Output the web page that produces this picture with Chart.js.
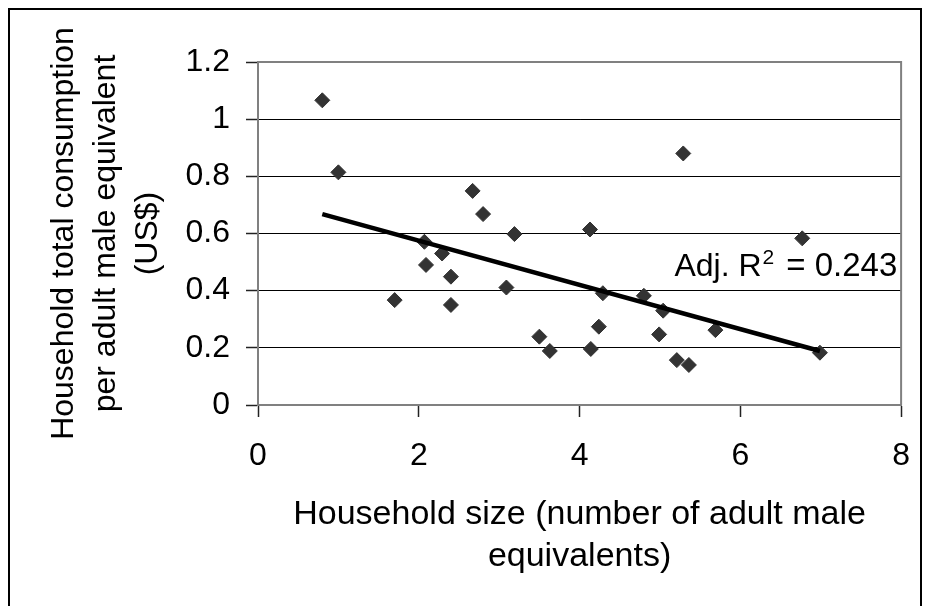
<!DOCTYPE html>
<html>
<head>
<meta charset="utf-8">
<script src="https://cdn.jsdelivr.net/npm/chart.js@4.4.1/dist/chart.umd.min.js"></script>
<style>
  html, body { margin: 0; padding: 0; background: #fff; }
  #wrap { width: 930px; height: 606px; }
</style>
</head>
<body>
<div id="wrap"><canvas id="chart" width="930" height="606"></canvas></div>
<script>
// household size (adult male equivalents)
const householdSize = [0.80, 1.00, 1.70, 2.07, 2.09, 2.29, 2.40, 2.40, 2.67, 2.80, 3.09, 3.19, 3.50, 3.63,
    4.13, 4.14, 4.24, 4.29, 4.80, 4.99, 5.04, 5.21, 5.29, 5.36, 5.69, 6.77, 6.99];
// consumption per adult male equivalent (US$)
const consumption = [1.066, 0.814, 0.367, 0.571, 0.490, 0.530, 0.449, 0.350, 0.749, 0.668, 0.411, 0.598, 0.239, 0.189,
    0.614, 0.196, 0.274, 0.391, 0.382, 0.247, 0.330, 0.157, 0.880, 0.140, 0.262, 0.583, 0.183];

// fitted line end points
const trendX = [0.80, 6.99];
const trendY = [0.668, 0.189];

// axis ticks
const xTicks = [0, 2, 4, 6, 8];
const yTicks = [0, 0.2, 0.4, 0.6, 0.8, 1, 1.2];

const xTitle = ['Household size (number of adult male', 'equivalents)'];
const yTitle = ['Household total consumption', 'per adult male equivalent', '(US$)'];
const r2Label = { pre: 'Adj. R', sup: '2', post: '= 0.243', x: 5.18, y: 0.451 };

const FONT = '"Liberation Sans", Arial, sans-serif';

document.addEventListener('DOMContentLoaded', () => {
    const ctx = document.getElementById('chart').getContext('2d');

    // frame, plot border and the R2 note
    const extras = {
        id: 'extras',
        beforeDatasetsDraw(chart) {
            const { ctx, chartArea: a } = chart;
            ctx.save();
            ctx.strokeStyle = '#808080';
            ctx.lineWidth = 2;
            ctx.beginPath();
            ctx.moveTo(a.left, a.top);
            ctx.lineTo(a.right, a.top);
            ctx.lineTo(a.right, a.bottom);
            ctx.stroke();
            ctx.restore();
        },
        afterDraw(chart) {
            const { ctx, scales } = chart;
            ctx.save();
            // outer frame
            ctx.strokeStyle = '#000';
            ctx.lineWidth = 2;
            ctx.strokeRect(9, 9, 912, 700);

            // Adj. R2 text
            let px = scales.x.getPixelForValue(r2Label.x);
            const py = scales.y.getPixelForValue(r2Label.y);
            ctx.fillStyle = '#000';
            ctx.textBaseline = 'alphabetic';
            ctx.textAlign = 'left';
            ctx.font = '32px ' + FONT;
            ctx.fillText(r2Label.pre, px, py);
            px += ctx.measureText(r2Label.pre).width + 1;
            ctx.font = '21px ' + FONT;
            ctx.fillText(r2Label.sup, px, py - 12);
            px += ctx.measureText(r2Label.sup).width + 12;
            ctx.font = '33px ' + FONT;
            ctx.fillText(r2Label.post, px, py);
            ctx.restore();
        }
    };

    new Chart(ctx, {
        type: 'scatter',
        data: {
            datasets: [
                {
                    type: 'line',
                    label: 'Trend',
                    data: trendX.map((x, i) => ({ x: x, y: trendY[i] })),
                    borderColor: '#000',
                    borderWidth: 4.5,
                    pointRadius: 0,
                    fill: false
                },
                {
                    label: 'Households',
                    data: householdSize.map((x, i) => ({ x: x, y: consumption[i] })),
                    pointStyle: 'rectRot',
                    pointRadius: 7.5,
                    pointHoverRadius: 7.5,
                    backgroundColor: '#333333',
                    borderColor: '#333333',
                    borderWidth: 1
                }
            ]
        },
        options: {
            responsive: false,
            animation: false,
            devicePixelRatio: 1,
            layout: { padding: { left: 10, top: 62, right: 26, bottom: 0 } },
            plugins: {
                legend: { display: false },
                tooltip: { enabled: false }
            },
            scales: {
                x: {
                    type: 'linear',
                    min: 0,
                    max: 8,
                    afterBuildTicks: (scale) => { scale.ticks = xTicks.map(v => ({ value: v })); },
                    afterFit: (scale) => { scale.height = 201; },
                    grid: {
                        drawOnChartArea: false,
                        drawTicks: true,
                        tickLength: 12,
                        tickColor: '#222',
                        tickWidth: 1.5
                    },
                    border: { color: '#808080', width: 2 },
                    ticks: {
                        padding: 20,
                        color: '#000',
                        font: { family: FONT, size: 32 },
                        maxRotation: 0
                    },
                    title: {
                        display: true,
                        text: xTitle,
                        color: '#000',
                        font: { family: FONT, size: 34, lineHeight: '42px' },
                        padding: { top: 0, bottom: 28 }
                    }
                },
                y: {
                    type: 'linear',
                    min: 0,
                    max: 1.2,
                    afterBuildTicks: (scale) => { scale.ticks = yTicks.map(v => ({ value: v })); },
                    afterFit: (scale) => { scale.width = 248; },
                    grid: {
                        color: (c) => (c.tick && (c.tick.value === 0 || c.tick.value === 1.2)) ? 'rgba(0,0,0,0)' : '#000',
                        lineWidth: 1,
                        drawTicks: true,
                        tickLength: 12,
                        tickColor: '#222',
                        tickWidth: 1.5
                    },
                    border: { color: '#808080', width: 2 },
                    ticks: {
                        padding: 16,
                        color: '#000',
                        font: { family: FONT, size: 32 },
                        callback: (v) => String(v)
                    },
                    title: {
                        display: true,
                        text: yTitle,
                        color: '#000',
                        font: { family: FONT, size: 32, lineHeight: '42px' },
                        padding: { top: 33, bottom: 0 }
                    }
                }
            }
        },
        plugins: [extras]
    });
});
</script>
</body>
</html>
